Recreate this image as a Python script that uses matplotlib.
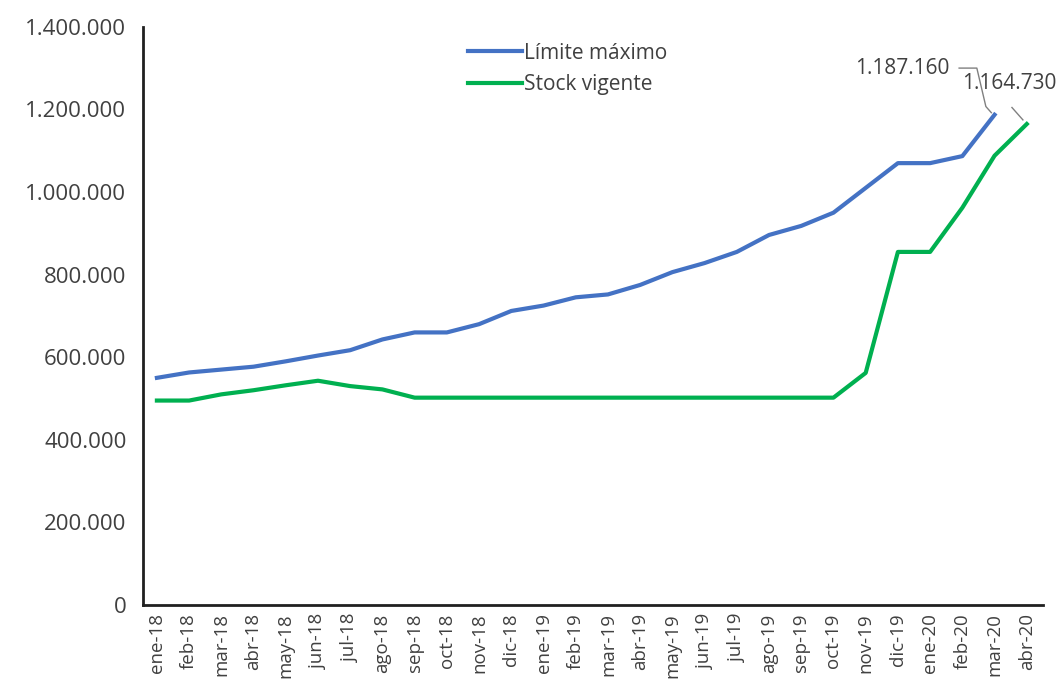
import matplotlib
matplotlib.use('Agg')
import matplotlib.pyplot as plt
from matplotlib.ticker import FuncFormatter

# meses
meses = ['ene-18', 'feb-18', 'mar-18', 'abr-18', 'may-18', 'jun-18', 'jul-18',
         'ago-18', 'sep-18', 'oct-18', 'nov-18', 'dic-18', 'ene-19', 'feb-19',
         'mar-19', 'abr-19', 'may-19', 'jun-19', 'jul-19', 'ago-19', 'sep-19',
         'oct-19', 'nov-19', 'dic-19', 'ene-20', 'feb-20', 'mar-20', 'abr-20']

# Límite máximo (hasta mar-20)
limite = [550000, 563000, 570000, 577000, 590000, 604000, 617000, 643000,
          660000, 660000, 680000, 712000, 725000, 745000, 752000, 775000,
          806000, 828000, 855000, 896000, 918000, 950000, 1010000, 1070000,
          1070000, 1087000, 1187160]

# Stock vigente
stock = [495000, 495000, 510000, 520000, 532000, 543000, 530000, 522000,
         502000, 502000, 502000, 502000, 502000, 502000, 502000, 502000,
         502000, 502000, 502000, 502000, 502000, 502000, 562000, 855000,
         855000, 962000, 1088000, 1164730]

azul = '#4472C4'
verde = '#00B050'
gris = '#404040'

plt.rcParams['font.family'] = ['Open Sans', 'DejaVu Sans']

fig = plt.figure(figsize=(10.62, 6.89), dpi=100)
ax = fig.add_axes([0.1347, 0.122, 0.8473, 0.839])

x1 = list(range(len(limite)))
x2 = list(range(len(stock)))
ax.plot(x1, limite, color=azul, lw=3, label='Límite máximo')
ax.plot(x2, stock, color=verde, lw=3, label='Stock vigente')

ax.set_xlim(-0.43, 27.5)
ax.set_ylim(0, 1400000)
ax.set_yticks(range(0, 1400001, 200000))
ax.yaxis.set_major_formatter(FuncFormatter(lambda v, p: f'{int(v):,}'.replace(',', '.')))
ax.set_xticks(x2)
ax.set_xticklabels(meses, rotation=90, fontsize=13.5, color=gris)
ax.tick_params(axis='y', length=0, labelsize=16, labelcolor=gris, pad=12)
ax.tick_params(axis='x', length=0, pad=6)

for s in ['top', 'right']:
    ax.spines[s].set_visible(False)
for s in ['left', 'bottom']:
    ax.spines[s].set_linewidth(2)
    ax.spines[s].set_color('#202020')

# etiquetas de los últimos valores
fmt = lambda v: f'{v:,}'.replace(',', '.')
gx, gy = x1[-1], limite[-1]
ax.text(gx - 2.85, gy + 113000, fmt(gy), fontsize=15, color=gris,
        ha='center', va='center')
ax.plot([gx - 1.1, gx - 0.55, gx - 0.27, gx - 0.1],
        [gy + 113000, gy + 113000, gy + 20000, gy + 5000],
        color='#808080', lw=1)
sx, sy = x2[-1], stock[-1]
ax.text(sx - 0.53, sy + 97000, fmt(sy), fontsize=15, color=gris,
        ha='center', va='center')
ax.plot([sx - 0.46, sx - 0.12], [sy + 40000, sy + 10000],
        color='#808080', lw=1)

ax.legend(loc='upper left', bbox_to_anchor=(0.34, 1.005), frameon=False,
          fontsize=15, handlelength=2.6, handletextpad=0.1, labelcolor=gris,
          labelspacing=0.5)

fig.savefig('out.png', dpi=100)
